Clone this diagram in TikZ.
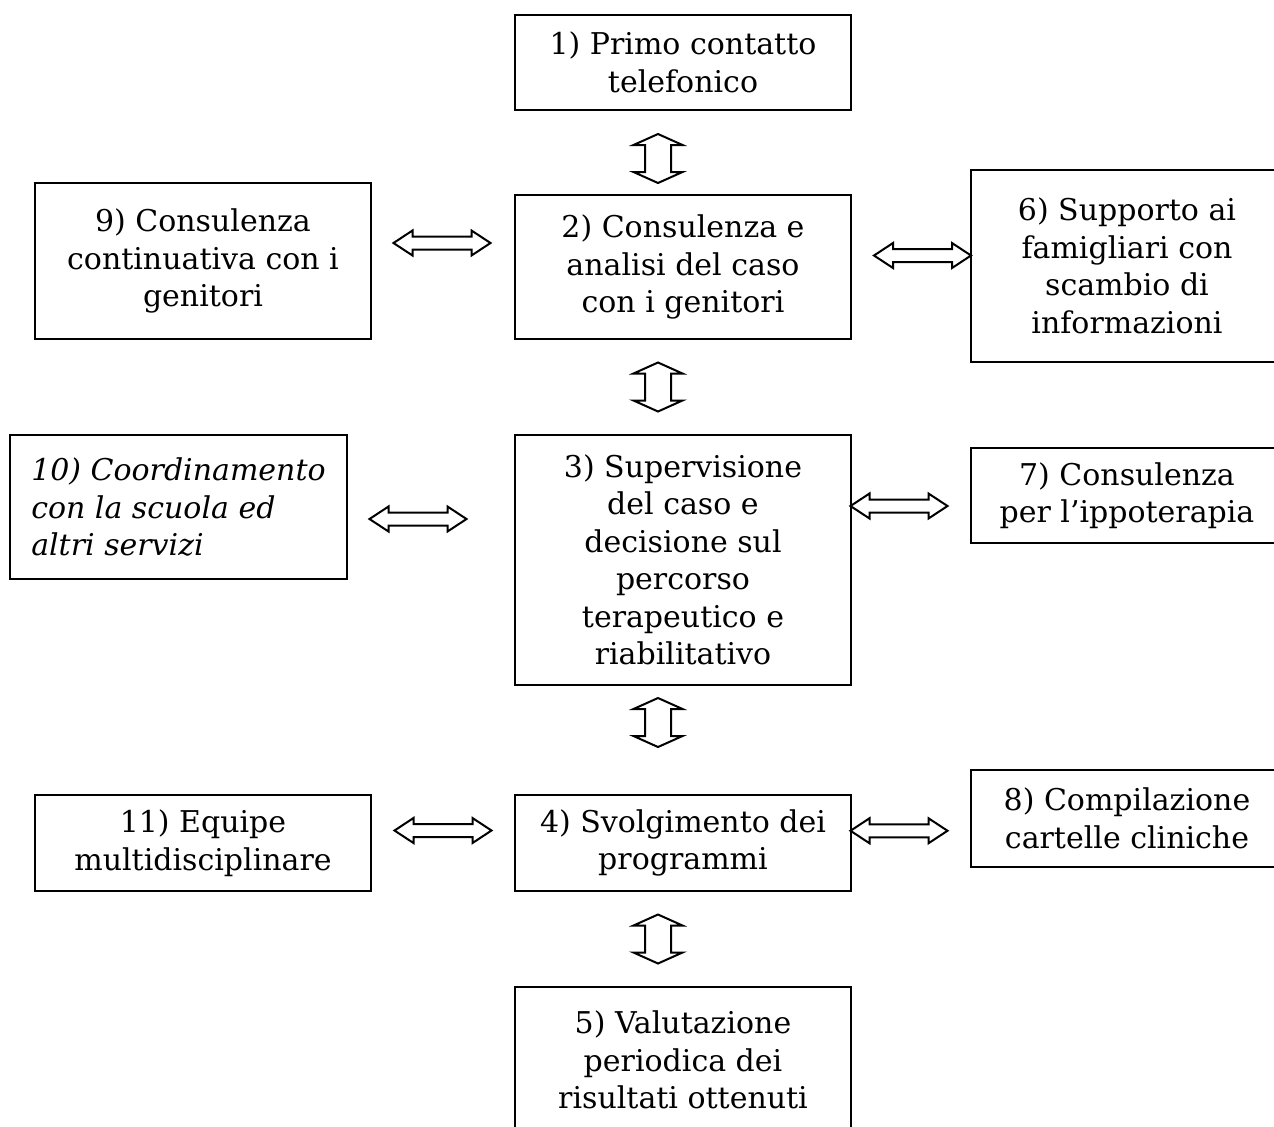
\documentclass[tikz,border=0pt]{standalone}
\usepackage{fontspec}
\setmainfont{DejaVu Serif}
\usetikzlibrary{calc}

\tikzset{
  box/.style={draw,line width=1pt,align=center,inner sep=0pt,minimum width=168pt,
    font=\fontsize{15pt}{18.75pt}\selectfont},
  ibox/.style={box,align=left,minimum width=168.5pt,
    font=\fontsize{15pt}{18.75pt}\selectfont\itshape},
  vblock/.pic={\draw[line width=1pt] (0,-24.5) -- (24.5,-13.5) -- (13,-13.5) -- (13,13.5)
    -- (24.5,13.5) -- (0,24.5) -- (-24.5,13.5) -- (-13,13.5) -- (-13,-13.5) -- (-24.5,-13.5) -- cycle;},
  hblock/.pic={\draw[line width=1pt] (-48.5,0) -- (-29.5,-12.5) -- (-29.5,-6.5) -- (29.5,-6.5)
    -- (29.5,-12.5) -- (48.5,0) -- (29.5,12.5) -- (29.5,6.5) -- (-29.5,6.5) -- (-29.5,12.5) -- cycle;},
}

\begin{document}
\begin{tikzpicture}[x=0.5pt,y=-0.5pt]
\useasboundingbox (0,0) rectangle (1274,1126);

  % central column
  \node[box,minimum height=47.5pt] (b1) at (683,62.5) {1) Primo contatto\\telefonico};
  \node[box,minimum height=72pt] (b2) at (683,267) {2) Consulenza e\\analisi del caso\\con i genitori};
  \node[box,minimum height=125pt] (b3) at (683,560) {3) Supervisione\\del caso e\\decisione sul\\percorso\\terapeutico e\\riabilitativo};
  \node[box,minimum height=48pt] (b4) at (683,843) {4) Svolgimento dei\\programmi};
  \node[box,minimum height=73pt] (b5) at (683,1060) {5) Valutazione\\periodica dei\\risultati ottenuti};

  % right column
  \node[box,minimum width=156pt,minimum height=96pt] (b6) at (1127,266) {6) Supporto ai\\famigliari con\\scambio di\\informazioni};
  \node[box,minimum width=156pt,minimum height=47.5pt] (b7) at (1127,495.5) {7) Consulenza\\per l’ippoterapia};
  \node[box,minimum width=156pt,minimum height=48.5pt] (b8) at (1127,818.5) {8) Compilazione\\cartelle cliniche};

  % left column
  \node[box,minimum height=78pt] (b9) at (203,261) {9) Consulenza\\continuativa con i\\genitori};
  \node[ibox,minimum height=72pt] (b10) at (178.5,507) {10) Coordinamento\\con la scuola ed\\altri servizi};
  \node[box,minimum height=48pt] (b11) at (203,843) {11) Equipe\\multidisciplinare};

  % vertical block arrows
  \pic (a12) at ($(b1.south)!.5!(b2.north)+(-25,6)$) {vblock};
  \pic (a23) at ($(b2.south)!.5!(b3.north)+(-25,0)$) {vblock};
  \pic (a34) at ($(b3.south)!.5!(b4.north)+(-25,-17.5)$) {vblock};
  \pic (a45) at ($(b4.south)!.5!(b5.north)+(-25,0)$) {vblock};

  % horizontal block arrows
  \pic (a92) at ($(b9.east)!.5!(b2.west)+(-1,-21)$) {hblock};
  \pic (a26) at ($(b2.east)!.5!(b6.west)+(11.5,-11)$) {hblock};
  \pic (a103) at ($(b10.east)!.5!(b3.west)+(-13,-14.5)$) {hblock};
  \pic (a37) at ($(b3.east)!.5!(b7.west)+(-12,-21.75)$) {hblock};
  \pic (a114) at ($(b11.east)!.5!(b4.west)+(0,-12.5)$) {hblock};
  \pic (a48) at ($(b4.east)!.5!(b8.west)+(-12,0)$) {hblock};

\end{tikzpicture}
\end{document}
